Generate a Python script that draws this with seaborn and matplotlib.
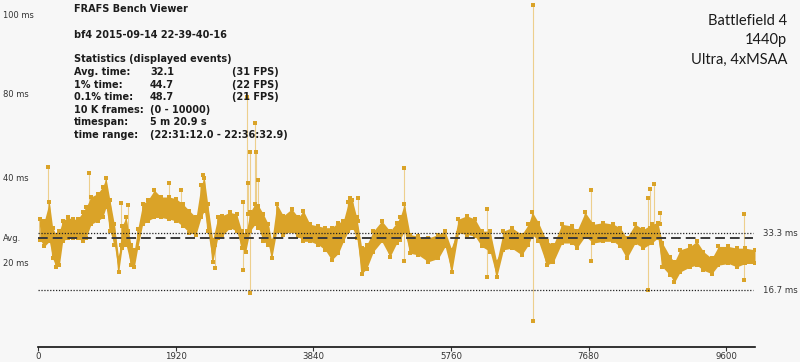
import numpy as np
import pandas as pd
import matplotlib
matplotlib.use("Agg")
import matplotlib.pyplot as plt
import matplotlib.transforms as mtransforms
import seaborn as sns

# %% frame-time band read off the viewer (frame index, low/high ms of the dot cloud)
frames = [28, 88, 158, 205, 251, 298, 344, 414, 484, 553, 623, 670, 739, 832, 902, 949,
          1004, 1065, 1125, 1172, 1228, 1297, 1344, 1390, 1460, 1530, 1623, 1716, 1832,
          1925, 2018, 2111, 2204, 2274, 2320, 2367, 2437, 2507, 2562, 2678, 2771, 2841,
          2897, 2957, 3027, 3074, 3143, 3213, 3260, 3330, 3422, 3539, 3632, 3701, 3794,
          3911, 4004, 4097, 4190, 4259, 4329, 4385, 4446, 4516, 4585, 4678, 4795, 4910,
          5004, 5050, 5110, 5189, 5305, 5444, 5584, 5678, 5771, 5864, 5980, 6096, 6189,
          6305, 6398, 6491, 6608, 6747, 6840, 6896, 6980, 7096, 7189, 7306, 7445, 7515,
          7631, 7747, 7886, 8026, 8119, 8212, 8328, 8444, 8561, 8645, 8709, 8816, 8877,
          8956, 9095, 9189, 9281, 9398, 9490, 9630, 9747, 9863, 10000]
ms_low = [31.5, 29.5, 31.0, 26.0, 23.5, 24.0, 31.0, 32.0, 32.0, 32.0, 31.0, 32.0, 36.0,
          37.0, 38.0, 41.0, 34.0, 30.0, 22.0, 29.0, 30.0, 24.0, 23.5, 29.0, 36.0, 37.0,
          38.0, 38.0, 37.5, 37.0, 35.5, 33.5, 33.0, 38.0, 40.0, 34.0, 25.0, 32.0, 32.5,
          35.0, 34.0, 29.0, 28.0, 34.0, 36.0, 35.0, 31.0, 30.0, 26.0, 34.0, 33.0, 34.0,
          32.5, 31.0, 31.0, 30.0, 28.5, 25.5, 27.5, 31.0, 34.0, 35.0, 32.0, 21.5, 23.0,
          28.0, 31.0, 26.5, 30.5, 31.5, 34.0, 27.5, 27.0, 25.0, 26.0, 29.5, 22.0, 33.5,
          33.0, 32.5, 29.5, 28.0, 20.5, 28.5, 29.0, 27.0, 30.0, 33.0, 31.0, 24.0, 25.0,
          30.5, 30.5, 29.0, 32.5, 30.5, 31.0, 31.0, 29.5, 26.0, 30.5, 29.0, 30.5, 32.0,
          23.5, 21.0, 19.0, 22.0, 23.5, 24.0, 22.5, 21.5, 24.0, 24.5, 23.5, 24.5, 24.5]
ms_high = [37.5, 37.0, 42.5, 35.0, 33.0, 34.0, 37.0, 38.0, 37.5, 37.5, 39.5, 41.0, 44.0,
           45.0, 47.0, 49.5, 43.0, 36.0, 26.0, 35.5, 38.0, 30.0, 28.5, 34.5, 42.0, 43.0,
           46.0, 44.0, 44.0, 43.5, 42.0, 40.0, 38.0, 47.5, 49.5, 42.0, 31.5, 38.0, 38.5,
           39.5, 39.0, 34.0, 33.0, 39.5, 42.0, 41.5, 39.0, 36.0, 31.0, 42.0, 38.5, 40.5,
           38.0, 40.0, 36.0, 35.5, 35.0, 35.0, 36.5, 37.0, 42.5, 43.0, 38.0, 29.0, 30.0,
           34.0, 37.0, 34.0, 36.5, 38.0, 42.0, 33.0, 32.5, 32.0, 33.0, 34.0, 28.5, 37.5,
           38.5, 37.5, 34.0, 34.0, 25.0, 34.0, 35.0, 33.0, 36.0, 39.5, 36.5, 31.0, 30.0,
           36.0, 35.5, 34.0, 39.5, 36.0, 36.5, 36.0, 35.0, 32.0, 36.0, 34.5, 36.0, 36.5,
           30.5, 26.5, 25.0, 28.5, 29.5, 31.0, 28.0, 26.0, 29.5, 29.5, 29.0, 29.0, 28.5]

# single-frame hitches (frame, from ms, to ms)
spike_frames = [135, 707, 1158, 1251, 1832, 1995, 2297, 2469, 2864, 2911, 2925, 2957,
                3027, 3040, 3064, 4352, 4469, 5110, 6259, 6910, 7714, 8505, 8533, 8598,
                8677, 9840]
spike_lo = [37.0, 40.0, 30.0, 34.0, 44.0, 42.0, 47.0, 23.1, 22.6, 34.0, 39.0, 15.8,
            40.0, 40.0, 41.0, 42.0, 37.0, 25.1, 20.5, 7.7, 25.1, 16.8, 35.0, 35.0,
            36.0, 19.7]
spike_hi = [52.9, 51.0, 42.2, 41.7, 48.0, 46.0, 50.5, 30.0, 42.4, 73.3, 48.0, 57.3,
            65.7, 57.3, 49.0, 43.6, 43.6, 52.5, 40.4, 100.4, 46.1, 43.6, 46.4, 47.9,
            39.3, 39.1]

avg_ms = 32.1
ref_ms = [33.3, 16.7]
ref_labels = ["33.3 ms", "16.7 ms"]

xtick_vals = [0, 1920, 3840, 5760, 7680, 9600]
# the viewer's left labels sit where they sit, not on a clean scale
ytick_vals = [97.4, 74.5, 49.6, 32.1, 24.7]
ytick_labels = ["100 ms", "80 ms", "40 ms", "Avg.", "20 ms"]

stats_rows = [
    ("Avg. time:", "32.1", "(31 FPS)"),
    ("1% time:", "44.7", "(22 FPS)"),
    ("0.1% time:", "48.7", "(21 FPS)"),
    ("10 K frames:", "(0 - 10000)", ""),
    ("timespan:", "5 m 20.9 s", ""),
    ("time range:", "(22:31:12.0 - 22:36:32.9)", ""),
]
game_lines = ["Battlefield 4", "1440p", "Ultra, 4xMSAA"]

# %% plot
sns.set_theme(style="white")
plt.rcParams["font.family"] = ["DejaVu Sans"]
plt.rcParams["lines.scale_dashes"] = False

gold = "#DAA328"
W, H = 800, 362
fig = plt.figure(figsize=(W / 100, H / 100), dpi=100, facecolor="#f7f7f7")
ax = fig.add_axes([38 / W, 15 / H, 717 / W, 347 / H])
ax.set_facecolor("none")

band = pd.DataFrame({"frame": frames, "low": ms_low, "high": ms_high})
spikes = pd.DataFrame({"frame": spike_frames, "lo": spike_lo, "hi": spike_hi})

ax.vlines(spikes["frame"], spikes["lo"], spikes["hi"], color="#EBC673", lw=0.8,
          alpha=0.8, zorder=2)
ax.fill_between(band["frame"], band["low"], band["high"], color=gold, lw=0, zorder=3)

# zig-zag through the edges gives the cloud its ragged look
zig = pd.DataFrame({
    "frame": np.column_stack([band["frame"], band["frame"]]).ravel(),
    "ms": np.column_stack([band["low"], band["high"]]).ravel(),
})
ax.plot(zig["frame"], zig["ms"], color=gold, lw=0.8, zorder=3)
edge = pd.concat([band[["frame", "low"]].rename(columns={"low": "ms"}),
                  band[["frame", "high"]].rename(columns={"high": "ms"})])
sns.scatterplot(data=edge, x="frame", y="ms", ax=ax, color=gold, marker="s", s=6,
                linewidth=0, zorder=3)
ends = pd.concat([spikes[["frame", "lo"]].rename(columns={"lo": "ms"}),
                  spikes[["frame", "hi"]].rename(columns={"hi": "ms"})])
sns.scatterplot(data=ends, x="frame", y="ms", ax=ax, color=gold, marker="s", s=5,
                linewidth=0, zorder=4)

ax.axhline(avg_ms, xmin=0, xmax=0.997, color="#3a3a3a", lw=1.4, dashes=(7, 3.6), zorder=5)
trans = mtransforms.blended_transform_factory(ax.transAxes, ax.transData)
for v, lab in zip(ref_ms, ref_labels):
    ax.axhline(v, xmin=0, xmax=0.997, color="#222222", lw=0.9, dashes=(0.9, 1.2), zorder=5)
    ax.text(1.011, v, lab, transform=trans, ha="left", va="center", fontsize=6.2,
            color="#333333")

ax.set_xlim(0, 10000)
ax.set_ylim(0, 101.8)
for s in ["top", "right", "left"]:
    ax.spines[s].set_visible(False)
ax.spines["bottom"].set_color("#111111")
ax.spines["bottom"].set_linewidth(1.2)

ax.set_xticks(xtick_vals)
ax.set_xticklabels([str(v) for v in xtick_vals])
ax.tick_params(axis="x", length=3, width=0.8, color="#333333", pad=0.5,
               labelsize=6.2, labelcolor="#333333", bottom=True)
ax.set_yticks(ytick_vals)
ax.set_yticklabels(ytick_labels)
ax.tick_params(axis="y", length=0, pad=25, labelsize=6.0, labelcolor="#333333")
for t in ax.get_yticklabels():
    t.set_horizontalalignment("left")
ax.set_xlabel("")
ax.set_ylabel("")

# stats block, top left
bold = dict(fontsize=7, fontweight="bold", color="#1c1c1c", va="center")
fig.text(74 / W, 1 - 9.5 / H, "FRAFS Bench Viewer", **bold)
fig.text(74 / W, 1 - 34.5 / H, "bf4 2015-09-14 22-39-40-16", **bold)
fig.text(74 / W, 1 - 59.5 / H, "Statistics (displayed events)", **bold)
for i, (a, b, c) in enumerate(stats_rows):
    y = 1 - (72 + 12.6 * i) / H
    fig.text(74 / W, y, a, **bold)
    fig.text(150 / W, y, b, **bold)
    if c:
        fig.text(232 / W, y, c, **bold)

for i, line in enumerate(game_lines):
    fig.text(787 / W, 1 - (20.7 + 19.7 * i) / H, line, ha="right", va="center",
             fontsize=10.5, family="Lato", color="#1a1a1a")

fig.savefig("out.png", dpi=100, facecolor=fig.get_facecolor())
